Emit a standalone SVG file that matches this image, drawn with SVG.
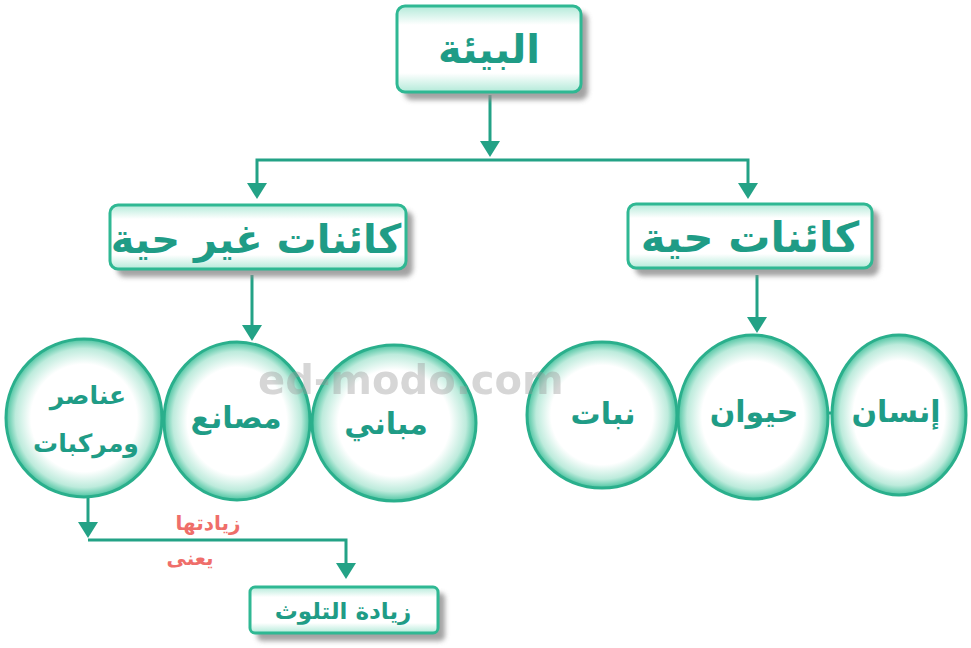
<svg xmlns="http://www.w3.org/2000/svg" width="971" height="648" viewBox="0 0 971 648">
<defs>
<linearGradient id="boxg" x1="0" y1="0" x2="0" y2="1">
<stop offset="0" stop-color="#b3ead9"/>
<stop offset="0.22" stop-color="#ffffff"/>
<stop offset="0.78" stop-color="#ffffff"/>
<stop offset="1" stop-color="#b3ead9"/>
</linearGradient>
<radialGradient id="circg" cx="0.5" cy="0.5" r="0.5">
<stop offset="0" stop-color="#ffffff"/>
<stop offset="0.68" stop-color="#ffffff"/>
<stop offset="0.88" stop-color="#bdebdc"/>
<stop offset="1" stop-color="#4cc4a1"/>
</radialGradient>
<filter id="sh" x="-10%" y="-10%" width="130%" height="140%">
<feGaussianBlur stdDeviation="2.5"/>
</filter>
</defs>
<style>
.shadow{fill:#8c8c8c;filter:url(#sh);opacity:0.8}
.box{fill:url(#boxg);stroke:#2fb893;stroke-width:3}
.circ{fill:url(#circg);stroke:#2aaf8c;stroke-width:3}
.t{font-family:"DejaVu Sans",sans-serif;font-weight:bold;fill:#1f9c86;text-anchor:middle}
.red{font-family:"DejaVu Sans",sans-serif;font-weight:bold;fill:#ef6e6a;text-anchor:middle;font-size:20px}
.ln{fill:none;stroke:#23a286;stroke-width:3}
.hd{fill:#23a286}
.wm{font-family:"DejaVu Sans",sans-serif;font-weight:bold;fill:#9a9a9a;opacity:0.4;font-size:40px}
</style>
<rect width="971" height="648" fill="#ffffff"/>

<g id="connectors">
<path class="ln" d="M490,95 V145"/>
<path class="hd" d="M480,141 H500 L490,157 Z"/>
<path class="ln" d="M257,188 V160 H748 V188"/>
<path class="hd" d="M247,183 H267 L257,199 Z"/>
<path class="hd" d="M738,183 H758 L748,199 Z"/>
<path class="ln" d="M252,275 V330"/>
<path class="hd" d="M242,325 H262 L252,341 Z"/>
<path class="ln" d="M757,275 V322"/>
<path class="hd" d="M747,317 H767 L757,333 Z"/>
<path class="ln" d="M88,498 V528"/>
<path class="hd" d="M78,522 H98 L88,538 Z"/>
<path class="ln" d="M88,540 H346 V568"/>
<path class="hd" d="M336,563 H356 L346,579 Z"/>
<path class="ln" d="M675,413 H685"/>
<path class="ln" d="M826,413 H836"/>
<path class="ln" d="M160,415 H170"/>
<path class="ln" d="M305,415 H318"/>
</g>

<g id="n-environment">
<rect class="shadow" x="404" y="12" width="184" height="88" rx="8"/>
<rect class="box" x="397" y="6" width="184" height="86" rx="8"/>
<text class="t" x="489" y="63" font-size="40">البيئة</text>
</g>

<g id="n-nonliving">
<rect class="shadow" x="117" y="211" width="296" height="66" rx="8"/>
<rect class="box" x="110" y="205" width="296" height="64" rx="8"/>
<text class="t" x="256" y="253" font-size="40">كائنات غير حية</text>
</g>

<g id="n-living">
<rect class="shadow" x="635" y="210" width="244" height="66" rx="8"/>
<rect class="box" x="628" y="204" width="244" height="64" rx="8"/>
<text class="t" x="750" y="252" font-size="42">كائنات حية</text>
</g>

<g id="n-elements">
<ellipse class="circ" cx="84" cy="418" rx="78" ry="79"/>
<text class="t" x="88" y="404" font-size="25">عناصر</text>
<text class="t" x="86" y="452" font-size="25">ومركبات</text>
</g>

<g id="n-factories">
<ellipse class="circ" cx="237" cy="421" rx="73" ry="79"/>
<text class="t" x="236" y="428" font-size="30">مصانع</text>
</g>

<g id="n-buildings">
<ellipse class="circ" cx="394" cy="423" rx="82" ry="78"/>
<text class="t" x="386" y="434" font-size="30">مباني</text>
</g>

<g id="n-plant">
<ellipse class="circ" cx="602" cy="415" rx="75" ry="73"/>
<text class="t" x="603" y="424" font-size="30">نبات</text>
</g>

<g id="n-animal">
<ellipse class="circ" cx="753" cy="417" rx="75" ry="82"/>
<text class="t" x="754" y="422" font-size="30">حيوان</text>
</g>

<g id="n-human">
<ellipse class="circ" cx="899" cy="415" rx="67" ry="80"/>
<text class="t" x="896" y="422" font-size="30">إنسان</text>
</g>

<g id="n-pollution">
<rect class="shadow" x="257" y="593" width="188" height="48" rx="5"/>
<rect class="box" x="250" y="587" width="188" height="46" rx="5"/>
<text class="t" x="343" y="619" font-size="23">زيادة التلوث</text>
</g>

<g id="labels">
<text class="red" x="208" y="530">زيادتها</text>
<text class="red" x="190" y="565">يعنى</text>
</g>

<text class="wm" x="258" y="394">ed-modo.com</text>
</svg>
